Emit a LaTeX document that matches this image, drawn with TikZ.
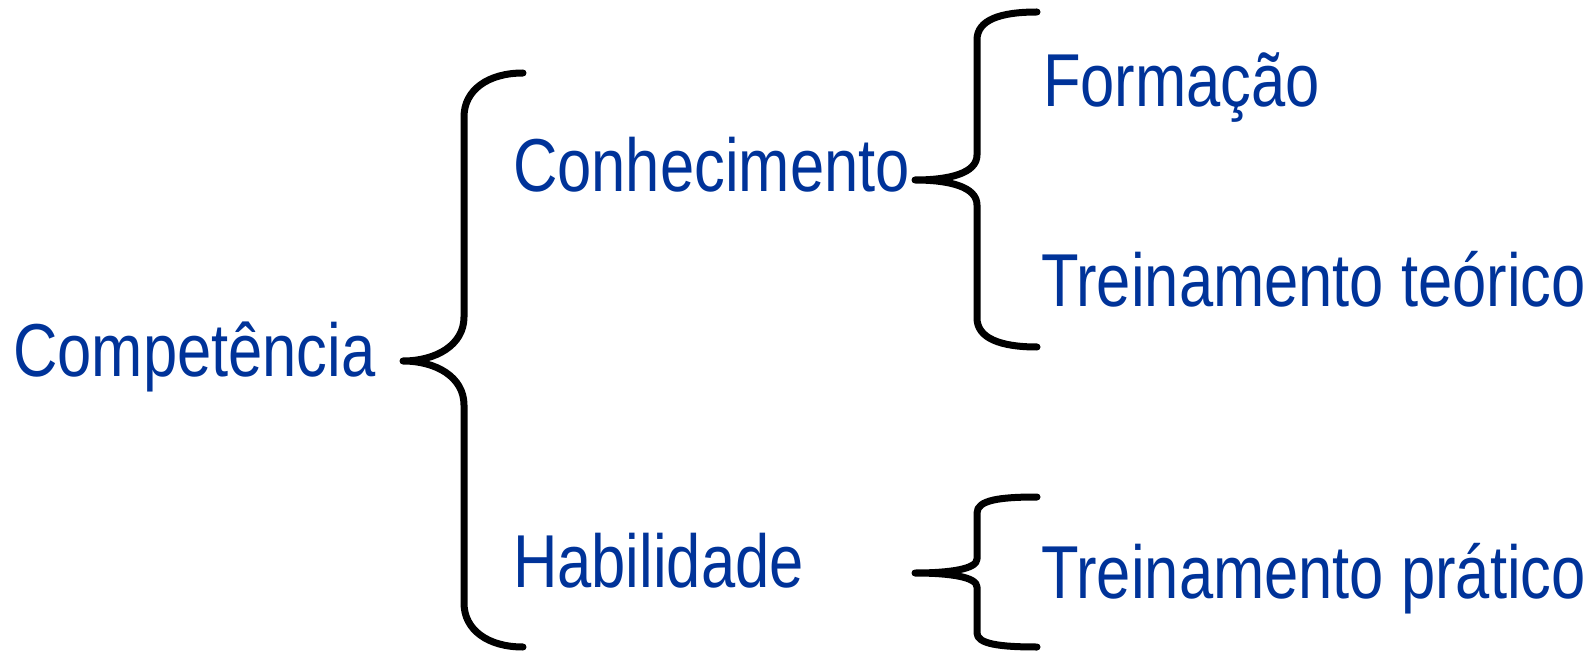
\documentclass[tikz,border=0pt]{standalone}
\usepackage{fontspec}
\setmainfont{Liberation Sans}[FakeStretch=0.82]
\usepackage{tikz}
\usetikzlibrary{positioning}
\usepackage{xcolor}
\definecolor{textblue}{RGB}{0,51,153}

\tikzset{
    term/.style={anchor=base west, inner sep=0pt, text=textblue, font=\fontsize{75}{90}\selectfont},
    brace/.style={draw=black, line width=7pt, line cap=round, line join=round}
}

\begin{document}
\begin{tikzpicture}[x=1pt, y=-1pt]
    % Frame
    \useasboundingbox (0,0) rectangle (1593,652);

    % Terms
    \node[term] (competencia) at (13,376) {Competência};
    \node[term] (conhecimento) at (513,192) {Conhecimento};
    \node[term] (habilidade) at (513,587) {Habilidade};
    \node[term] (formacao) at (1043,107) {Formação};
    \node[term] (teorico) at (1041,307) {Treinamento teórico};
    \node[term] (pratico) at (1041,598) {Treinamento prático};

    % Brace tips
    \coordinate (compTip) at (403,361);
    \coordinate (conhTip) at (915,180);
    \coordinate (habTip) at (915,573);

    % Braces
    \draw[brace] (523,73) .. controls (488,73) and (464,90) .. (464,117) -- (464,317)
        .. controls (464,345) and (436,361) .. (compTip)
        .. controls (436,361) and (464,377) .. (464,405) -- (464,603)
        .. controls (464,630) and (488,647) .. (523,647);
    \draw[brace] (1037,12) .. controls (1000,12) and (977,20) .. (977,40) -- (977,155)
        .. controls (977,173) and (950,180) .. (conhTip)
        .. controls (950,180) and (977,187) .. (977,205) -- (977,318)
        .. controls (977,338) and (1000,347) .. (1037,347);
    \draw[brace] (1037,497) .. controls (1000,497) and (977,500) .. (977,513) -- (977,559)
        .. controls (977,569) and (950,573) .. (habTip)
        .. controls (950,573) and (977,577) .. (977,587) -- (977,633)
        .. controls (977,644) and (1000,647) .. (1037,647);
\end{tikzpicture}
\end{document}
